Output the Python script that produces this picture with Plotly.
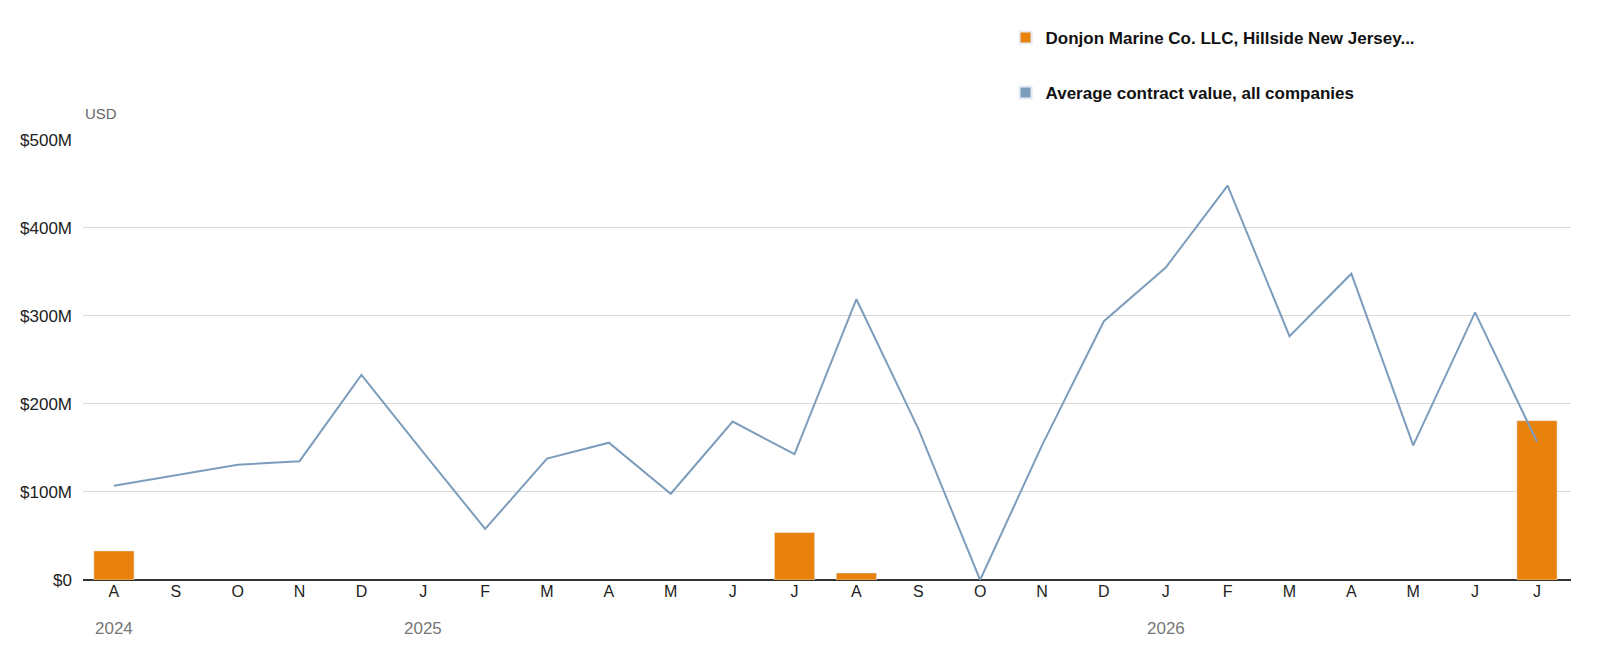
import plotly.graph_objects as go

months = ["A", "S", "O", "N", "D", "J", "F", "M", "A", "M", "J", "J",
          "A", "S", "O", "N", "D", "J", "F", "M", "A", "M", "J", "J"]
avg_value = [107, 119, 131, 135, 233, 145, 58, 138, 156, 98, 180, 143,
             319, 172, 0, 153, 294, 355, 448, 277, 348, 153, 304, 157]
donjon = [33, None, None, None, None, None, None, None, None, None, None, 54,
          8, None, None, None, None, None, None, None, None, None, None, 181]
years = {"2024": 0, "2025": 5, "2026": 17}

idx = list(range(len(months)))
orange = "#e8820c"
blue = "#7d9dbd"

fig = go.Figure()
fig.add_trace(go.Bar(x=idx, y=donjon, marker_color=orange, width=0.65,
                     name="Donjon Marine Co. LLC, Hillside New Jersey...",
                     legendgroup="a", hoverinfo="y"))
fig.add_trace(go.Scatter(x=idx, y=avg_value, mode="lines", line=dict(color=blue, width=2),
                         showlegend=False, legendgroup="b"))
# legend swatch as a square
fig.add_trace(go.Bar(x=[None], y=[None], marker_color=blue, legendgroup="b",
                     name="Average contract value, all companies"))

for label, i in years.items():
    fig.add_annotation(x=i, y=-0.085, xref="x", yref="paper", text=label, showarrow=False,
                       font=dict(size=17, color="#777"), yanchor="top")
fig.add_annotation(x=0, y=1.035, xref="paper", yref="paper", text="USD", showarrow=False,
                   xanchor="left", yanchor="bottom", font=dict(size=15, color="#666"))

fig.update_layout(
    width=1610, height=656, plot_bgcolor="white", paper_bgcolor="white",
    margin=dict(l=73, r=47, t=99, b=84),
    font=dict(family="Liberation Sans", color="#222"),
    bargap=0.35,
    legend=dict(x=0.62, y=1.27, xanchor="left", yanchor="top", tracegroupgap=30,
                font=dict(size=17, color="#111", family="Liberation Sans", weight="bold"),
                itemsizing="constant"),
    xaxis=dict(tickmode="array", tickvals=idx, ticktext=months, range=[-0.5, 23.55],
               showgrid=False, ticks="", tickfont=dict(size=16, color="#222")),
    yaxis=dict(range=[0, 501], tickvals=[0, 100, 200, 300, 400, 500],
               ticktext=["$0", "$100M", "$200M", "$300M", "$400M", "$500M"],
               gridcolor="#d9d9d9", zeroline=True, zerolinecolor="#333", zerolinewidth=2,
               tickfont=dict(size=17, color="#222"), ticklabelstandoff=10),
)
fig.write_html("out.html")
